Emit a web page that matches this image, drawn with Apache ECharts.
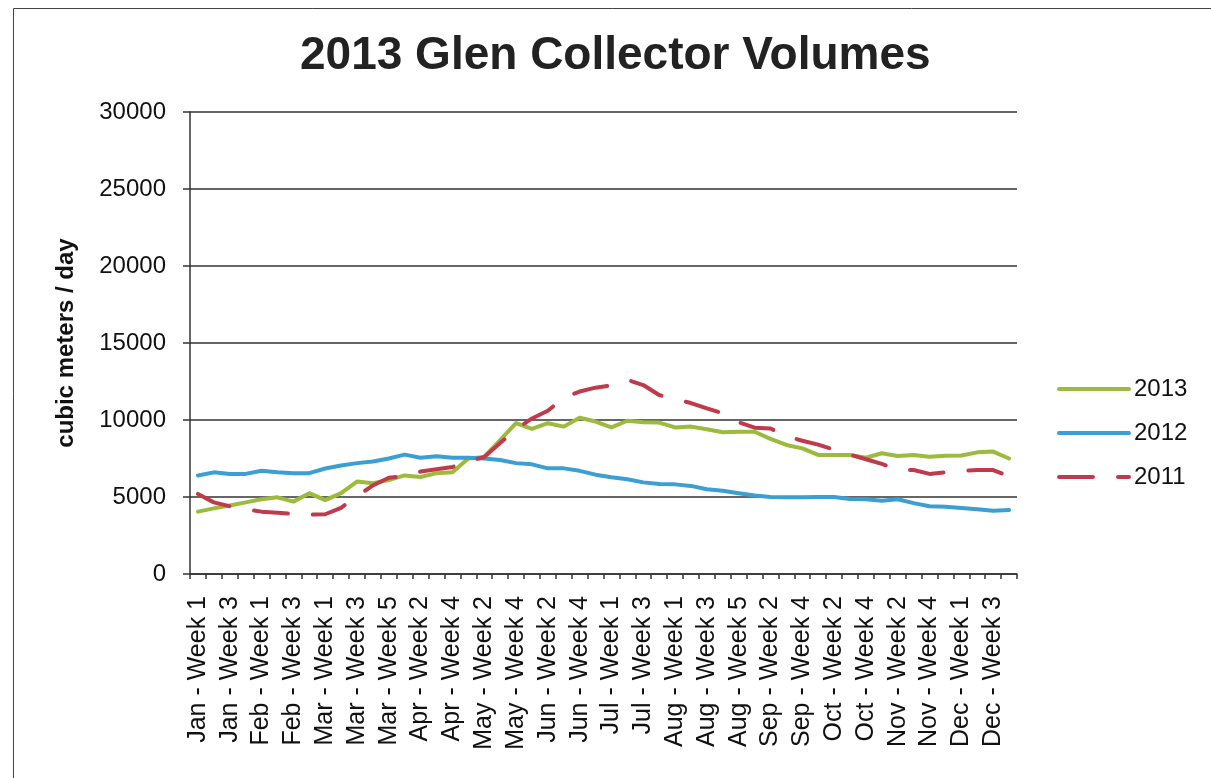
<!DOCTYPE html>
<html>
<head>
<meta charset="utf-8">
<script src="https://cdn.jsdelivr.net/npm/echarts@6/dist/echarts.min.js"></script>
<style>
html,body{margin:0;padding:0;background:#fff;}
#chart{width:1211px;height:778px;}
</style>
</head>
<body>
<div id="chart"></div>
<script>
var categories = [
  'Jan - Week 1','Jan - Week 2','Jan - Week 3','Jan - Week 4',
  'Feb - Week 1','Feb - Week 2','Feb - Week 3','Feb - Week 4',
  'Mar - Week 1','Mar - Week 2','Mar - Week 3','Mar - Week 4','Mar - Week 5',
  'Apr - Week 1','Apr - Week 2','Apr - Week 3','Apr - Week 4',
  'May - Week 1','May - Week 2','May - Week 3','May - Week 4',
  'Jun - Week 1','Jun - Week 2','Jun - Week 3','Jun - Week 4','Jun - Week 5',
  'Jul - Week 1','Jul - Week 2','Jul - Week 3','Jul - Week 4',
  'Aug - Week 1','Aug - Week 2','Aug - Week 3','Aug - Week 4','Aug - Week 5',
  'Sep - Week 1','Sep - Week 2','Sep - Week 3','Sep - Week 4',
  'Oct - Week 1','Oct - Week 2','Oct - Week 3','Oct - Week 4',
  'Nov - Week 1','Nov - Week 2','Nov - Week 3','Nov - Week 4','Nov - Week 5',
  'Dec - Week 1','Dec - Week 2','Dec - Week 3','Dec - Week 4'
];
var seriesNames = ['2013','2012','2011'];
var vol2013 = [4050,4260,4450,4650,4850,4980,4700,5250,4800,5250,6000,5900,6100,6400,6300,6550,6600,7500,7600,8700,9800,9420,9790,9570,10150,9900,9520,9950,9850,9830,9520,9570,9400,9200,9240,9240,8770,8380,8160,7730,7730,7730,7550,7840,7660,7730,7620,7680,7700,7900,7950,7500];
var vol2012 = [6400,6600,6500,6500,6700,6600,6550,6550,6850,7050,7200,7300,7500,7750,7550,7650,7550,7550,7500,7400,7200,7120,6860,6860,6700,6450,6280,6150,5950,5850,5820,5720,5500,5410,5250,5100,5000,4980,4980,5000,5000,4870,4850,4760,4850,4600,4400,4370,4280,4200,4100,4150];
var vol2011 = [5200,4650,4400,4200,4050,3980,3900,3850,3880,4300,5050,5750,6250,6350,6650,6800,6950,7300,7600,8500,9400,10100,10600,11450,11850,12100,12250,12600,12270,11620,11350,11100,10750,10430,9850,9500,9450,8950,8650,8400,8070,7750,7450,7150,6780,6750,6500,6600,6700,6750,6750,6350];
var yTicks = {min:0, max:30000, interval:5000};

var FONT = "'Liberation Sans', Arial, sans-serif";
var chart = echarts.init(document.getElementById('chart'), null, {renderer:'canvas'});
chart.setOption({
  backgroundColor:'#ffffff',
  animation:false,
  title:{
    text:'2013 Glen Collector Volumes',
    left:295, top:28,
    textStyle:{fontFamily:FONT, fontSize:46, fontWeight:'bold', color:'#222'}
  },
  legend:{
    orient:'vertical',
    left:1057, top:377, padding:0,
    itemWidth:70, itemHeight:14, itemGap:20,
    data:seriesNames,
    itemStyle:{opacity:0},
    lineStyle:{width:4, cap:'round'},
    textStyle:{fontFamily:FONT, fontSize:24, color:'#111'}
  },
  grid:{left:190, right:194, top:112, bottom:204, containLabel:false},
  xAxis:{
    type:'category',
    data:categories,
    boundaryGap:true,
    axisLine:{show:true, lineStyle:{color:'#333', width:1.5}},
    axisTick:{show:true, interval:0, length:5, lineStyle:{color:'#333', width:1.5}},
    axisLabel:{interval:1, rotate:90, margin:22, fontFamily:FONT, fontSize:25, color:'#111'},
    splitLine:{show:false}
  },
  yAxis:{
    type:'value',
    min:yTicks.min, max:yTicks.max, interval:yTicks.interval,
    name:'cubic meters / day',
    nameLocation:'middle', nameRotate:90, nameGap:112,
    nameTextStyle:{fontFamily:FONT, fontSize:24, fontWeight:'bold', color:'#111'},
    axisLine:{show:true, lineStyle:{color:'#333', width:1.5}},
    axisTick:{show:true, length:7, lineStyle:{color:'#333', width:1.5}},
    axisLabel:{margin:24, fontFamily:FONT, fontSize:24, color:'#111',
      formatter:function(v){return String(v);}},
    splitLine:{show:true, lineStyle:{color:'#333', width:1.5}}
  },
  series:[
    {name:seriesNames[0], type:'line', data:vol2013, symbol:'none', color:'#9cba3c',
     lineStyle:{width:4, color:'#9cba3c', cap:'round', join:'round'}},
    {name:seriesNames[1], type:'line', data:vol2012, symbol:'none', color:'#3c9fd3',
     lineStyle:{width:4, color:'#3c9fd3', cap:'round', join:'round'}},
    {name:seriesNames[2], type:'line', data:vol2011, symbol:'none', color:'#c13a4b',
     lineStyle:{width:4, color:'#c13a4b', type:[34,25], cap:'round', join:'round'}}
  ],
  graphic:[
    {type:'line', shape:{x1:13.5, y1:8.5, x2:1211, y2:8.5}, style:{stroke:'#444', lineWidth:1}, silent:true},
    {type:'line', shape:{x1:13.5, y1:8.5, x2:13.5, y2:778}, style:{stroke:'#444', lineWidth:1}, silent:true}
  ]
});
</script>
</body>
</html>
